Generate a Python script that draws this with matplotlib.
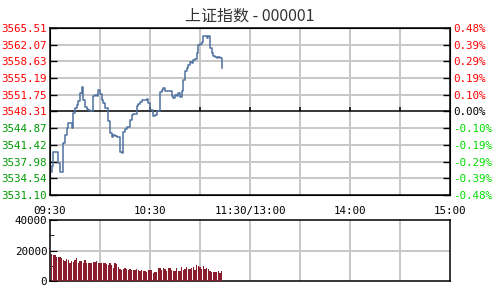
import matplotlib
matplotlib.use("Agg")
import matplotlib.pyplot as plt
import numpy as np

# 上证指数 分时数据 (每分钟)
prev_close = 3548.31
price = [3535.79, 3537.16, 3540.05, 3540.05, 3540.05, 3537.78, 3535.79, 3535.79, 3541.77, 3543.49,
         3544.87, 3545.90, 3545.90, 3544.87, 3547.97, 3549.00, 3549.69, 3550.38, 3552.10, 3553.33,
         3550.58, 3549.21, 3548.79, 3548.52, 3548.31, 3548.31, 3551.55, 3551.75, 3551.55, 3552.78,
         3551.96, 3550.72, 3550.03, 3549.00, 3549.00, 3546.25, 3543.84, 3543.01, 3543.49, 3543.29,
         3543.15, 3543.01, 3540.05, 3539.85, 3544.18, 3544.66, 3545.08, 3545.21, 3546.59, 3547.62,
         3547.76, 3547.76, 3549.48, 3549.89, 3550.17, 3550.58, 3550.72, 3550.58, 3550.86, 3550.03,
         3548.65, 3548.52, 3547.28, 3547.62, 3548.31, 3548.31, 3552.23, 3552.78, 3553.13, 3552.44,
         3552.44, 3552.44, 3552.58, 3551.55, 3551.06, 3551.75, 3551.55, 3552.10, 3551.27, 3552.44,
         3554.85, 3556.57, 3557.26, 3557.95, 3558.43, 3558.29, 3558.98, 3559.12, 3560.35, 3562.07,
         3562.28, 3562.56, 3563.80, 3563.80, 3563.45, 3563.93, 3561.39, 3560.35, 3559.67, 3559.46,
         3559.32, 3559.53, 3559.32, 3557.26]
volume = [17700, 16800, 17300, 16000, 16000, 16000, 15100, 13800, 12900, 14600,
          14000, 11500, 13300, 12600, 13800, 14800, 11600, 13000, 13000, 11500,
          13500, 12000, 11500, 11500, 11500, 12500, 12500, 13000, 11500, 11500,
          11500, 11500, 12000, 11000, 10500, 12000, 10500, 8500, 12000, 11000,
          9000, 8000, 7500, 8000, 8500, 8000, 7500, 8000, 7500, 7000, 7000,
          7800, 7100, 6650, 7300, 6650, 6650, 6200, 7300, 7300, 6900,
          5300, 5800, 5800, 8400, 8400, 7300, 8400, 7800, 6650, 8400,
          8400, 7100, 6650, 6650, 8400, 6650, 6650, 9100, 7500, 8000,
          8900, 8000, 8000, 8400, 9100, 7300, 10400, 10000, 8900, 7800,
          9800, 8000, 8400, 7800, 6650, 6200, 5800, 5800, 6200, 6650, 5300, 6650]

price_ticks = [3531.10, 3534.54, 3537.98, 3541.42, 3544.87, 3548.31,
               3551.75, 3555.19, 3558.63, 3562.07, 3565.51]
pct_labels = ['-0.48%', '-0.39%', '-0.29%', '-0.19%', '-0.10%', '0.00%',
              '0.10%', '0.19%', '0.29%', '0.39%', '0.48%']
time_ticks = [0, 60, 120, 180, 240]
time_labels = ['09:30', '10:30', '11:30/13:00', '14:00', '15:00']
vol_ticks = [0, 20000, 40000]

mono = 'DejaVu Sans Mono'
grid_c = '#c8c8c8'
line_c = '#4f71a0'
bar_c = '#8b1c2e'

fig = plt.figure(figsize=(5, 3), dpi=100)
fig.patch.set_facecolor('white')

# ---- 分时图
ax = fig.add_axes([0.1, 0.35, 0.8, 0.5567])
minutes = np.arange(len(price))
ax.plot(minutes, price, drawstyle='steps-post', color=line_c, lw=1.1, zorder=3)
ax.set_xlim(0, 240)
ax.set_ylim(price_ticks[0], price_ticks[-1])
ax.set_yticks(price_ticks)
ax.set_yticklabels(['%.2f' % p for p in price_ticks], family=mono, fontsize=7.8)
for lab, p in zip(ax.get_yticklabels(), price_ticks):
    lab.set_color('#ff0000' if p >= prev_close else '#009900')
ax.tick_params(axis='y', direction='in', length=5, pad=2, width=1)
ax.set_xticks(time_ticks)
ax.set_xticklabels(time_labels, family=mono, fontsize=7.8)
ax.tick_params(axis='x', length=0, pad=8)
for t in range(30, 240, 30):
    ax.axvline(t, color=grid_c, lw=1.2, zorder=1, antialiased=False)
for p in price_ticks[1:-1]:
    if p != prev_close:
        ax.axhline(p, color=grid_c, lw=1.2, zorder=1, antialiased=False)
ax.axhline(prev_close, color='black', lw=1.1, zorder=2)
ax.vlines(range(60, 240, 30), prev_close, prev_close + 0.9, color='black', lw=1.1, zorder=2)
for s in ax.spines.values():
    s.set_linewidth(1.1)

ax2 = ax.twinx()
ax2.set_ylim(price_ticks[0], price_ticks[-1])
ax2.set_yticks(price_ticks)
ax2.set_yticklabels(pct_labels, family=mono, fontsize=7.8)
for lab, p in zip(ax2.get_yticklabels(), price_ticks):
    if p > prev_close:
        lab.set_color('#ff0000')
    elif p < prev_close:
        lab.set_color('#00dd00')
    else:
        lab.set_color('black')
ax2.tick_params(axis='y', direction='in', length=5, pad=2, width=1)

fig.text(0.5, 0.947, '上证指数 - 000001', ha='center', va='center',
         fontsize=11.5, color='#333333', family=['Noto Sans CJK SC', 'DejaVu Sans'])

# ---- 成交量
axv = fig.add_axes([0.1, 0.0633, 0.8, 0.2033])
axv.bar(np.arange(len(volume)) + 1, volume, width=0.65, color=bar_c, zorder=3)
axv.set_xlim(0, 240)
axv.set_ylim(0, 40000)
axv.set_yticks(vol_ticks)
axv.set_yticklabels([str(v) for v in vol_ticks], family=mono, fontsize=7.8)
axv.set_yticks([10000, 30000], minor=True)
axv.tick_params(axis='y', which='major', direction='in', length=5, pad=2)
axv.tick_params(axis='y', which='minor', direction='in', length=3)
axv.set_xticks([])
for t in range(30, 240, 30):
    axv.axvline(t, color=grid_c, lw=1.2, zorder=1, antialiased=False)
axv.axhline(20000, color=grid_c, lw=1.2, zorder=1, antialiased=False)
for s in axv.spines.values():
    s.set_linewidth(1.1)

fig.savefig('out.png', dpi=100)
